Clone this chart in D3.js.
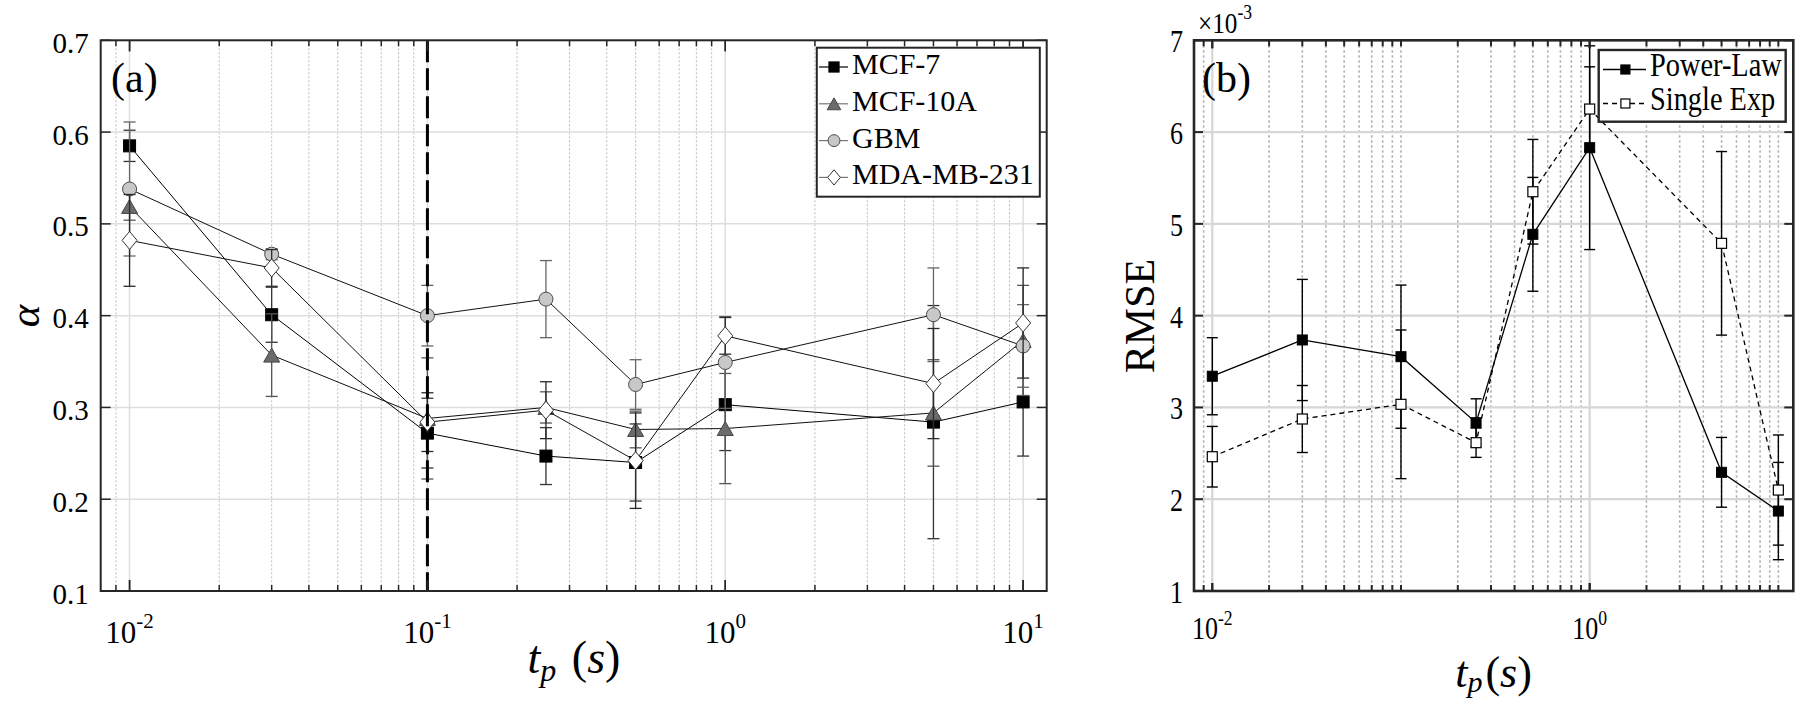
<!DOCTYPE html>
<html><head><meta charset="utf-8">
<script src="https://cdn.jsdelivr.net/npm/d3@7"></script>
<style>
body{margin:0;background:#fff}
svg{display:block}
text{font-family:"Liberation Serif","Times New Roman",serif;fill:#000}
</style>
</head><body>
<svg id="c" width="1798" height="703"></svg>
<script>
// ---------- data: panel (a) ----------
const tpA = [0.01, 0.03, 0.1, 0.25, 0.5, 1, 5, 10];
const seriesNamesA = ["MCF-7", "MCF-10A", "GBM", "MDA-MB-231"];
const mcf7      = [0.585, 0.401, 0.272, 0.247, 0.240, 0.303, 0.284, 0.306];
const mcf7Err   = [0.017, 0.030, 0.038, 0.031, 0.042, 0.050, 0.127, 0.059];
const mcf10a    = [0.519, 0.357, 0.288, 0.300, 0.276, 0.277, 0.294, 0.373];
const mcf10aErr = [0.015, 0.045, 0.066, 0.017, 0.020, 0.060, 0.058, 0.060];
const gbm       = [0.538, 0.467, 0.400, 0.418, 0.325, 0.349, 0.401, 0.367];
const gbmErr    = [0.073, 0.006, 0.033, 0.042, 0.027, 0.050, 0.051, 0.045];
const mda       = [0.482, 0.452, 0.284, 0.297, 0.242, 0.378, 0.326, 0.392];
const mdaErr    = [0.050, 0.020, 0.032, 0.031, 0.052, 0.020, 0.060, 0.060];
const yTicksA = [0.1, 0.2, 0.3, 0.4, 0.5, 0.6, 0.7];
const xMajorA = [0.01, 0.1, 1, 10];
const xLabelA = ["-2", "-1", "0", "1"];
const cutoffA = 0.1;

// ---------- data: panel (b) ----------
const tpB = [0.01, 0.03, 0.1, 0.25, 0.5, 1, 5, 10];
const seriesNamesB = ["Power-Law", "Single Exp"];
const powerLaw     = [3.340e-3, 3.735e-3, 3.553e-3, 2.834e-3, 4.886e-3, 5.830e-3, 2.293e-3, 1.871e-3];
const powerLawErr  = [0.42e-3, 0.66e-3, 0.78e-3, 0.26e-3, 0.62e-3, 1.11e-3, 0.38e-3, 0.53e-3];
const singleExp    = [2.463e-3, 2.874e-3, 3.034e-3, 2.616e-3, 5.350e-3, 6.251e-3, 4.788e-3, 2.100e-3];
const singleExpErr = [0.33e-3, 0.365e-3, 0.81e-3, 0.16e-3, 0.57e-3, 0.46e-3, 1.00e-3, 0.60e-3];
const yTicksB = [1e-3, 2e-3, 3e-3, 4e-3, 5e-3, 6e-3, 7e-3];
const xMajorB = [0.01, 1];
const xLabelB = ["-2", "0"];

const svg = d3.select("#c");

function isMajor(v, majors){ return majors.some(m => Math.abs(Math.log10(v) - Math.log10(m)) < 1e-9); }
function minorVals(dom){
  const out = [];
  for (let e = -4; e <= 2; e++) for (let k = 1; k <= 9; k++) {
    const v = +(k * Math.pow(10, e)).toPrecision(6);
    if (v > dom[0] * 1.002 && v < dom[1] * 0.998) out.push(v);
  }
  return out;
}

function makePanel(o){
  const x = d3.scaleLog().domain(o.xDomain).range([o.x0, o.x1]);
  const y = d3.scaleLinear().domain(o.yDomain).range([o.y1, o.y0]);
  const g = svg.append("g");
  const grid = g.append("g");
  const allX = minorVals(o.xDomain);
  grid.selectAll("line.minor").data(allX.filter(v => !isMajor(v, o.xMajor))).join("line")
    .attr("x1", d => x(d)).attr("x2", d => x(d)).attr("y1", o.y0).attr("y2", o.y1)
    .attr("stroke", o.minorColor).attr("stroke-width", o.minorWidth).attr("stroke-dasharray", o.minorDash);
  grid.selectAll("line.majx").data(o.xMajor).join("line")
    .attr("x1", d => x(d)).attr("x2", d => x(d)).attr("y1", o.y0).attr("y2", o.y1)
    .attr("stroke", o.majorColor).attr("stroke-width", o.majorWidth);
  grid.selectAll("line.majy").data(o.yTicks.slice(1, -1)).join("line")
    .attr("x1", o.x0).attr("x2", o.x1).attr("y1", d => y(d)).attr("y2", d => y(d))
    .attr("stroke", o.majorColor).attr("stroke-width", o.majorWidth);
  const data = g.append("g");
  const over = g.append("g");
  const frame = g.append("g");
  const tk = frame.append("g").attr("stroke", "#262626").attr("stroke-width", o.tickWidth);
  allX.concat(o.xMajor).forEach(v => {
    const L = isMajor(v, o.xMajor) ? o.majLen : o.minLen;
    tk.append("line").attr("x1", x(v)).attr("x2", x(v)).attr("y1", o.y1).attr("y2", o.y1 - L);
    tk.append("line").attr("x1", x(v)).attr("x2", x(v)).attr("y1", o.y0).attr("y2", o.y0 + L);
  });
  o.yTicks.forEach(v => {
    tk.append("line").attr("x1", o.x0).attr("x2", o.x0 + o.yLen).attr("y1", y(v)).attr("y2", y(v));
    tk.append("line").attr("x1", o.x1).attr("x2", o.x1 - o.yLen).attr("y1", y(v)).attr("y2", y(v));
  });
  frame.append("rect").attr("x", o.x0).attr("y", o.y0).attr("width", o.x1 - o.x0).attr("height", o.y1 - o.y0)
    .attr("fill", "none").attr("stroke", "#262626").attr("stroke-width", o.boxWidth);
  const lab = g.append("g");
  o.yTicks.forEach(v => {
    lab.append("text").attr("text-anchor", "end")
      .attr("transform", `translate(${o.x0 - o.yLabGap},${y(v) + o.yLabDy}) scale(${o.sx},1)`)
      .attr("font-size", o.tickFont).text(o.yFmt(v));
  });
  o.xMajor.forEach((v, i) => {
    const t = lab.append("text").attr("text-anchor", "middle")
      .attr("transform", `translate(${x(v)},${o.xLabBase}) scale(${o.sx},1)`)
      .attr("font-size", o.xTickFont);
    t.append("tspan").text("10");
    t.append("tspan").attr("font-size", o.supFont).attr("dy", -o.supRaise).text(o.xLabels[i]);
  });
  return {x, y, g, data, over, frame, lab};
}

function marker(g, type, cx, cy, w, h, fill, stroke, sw){
  let el;
  if (type === "square") el = g.append("rect").attr("x", cx - w/2).attr("y", cy - h/2).attr("width", w).attr("height", h);
  else if (type === "circle") el = g.append("ellipse").attr("cx", cx).attr("cy", cy).attr("rx", w/2).attr("ry", h/2);
  else if (type === "triangle") el = g.append("path").attr("d", `M${cx},${cy - h/2}L${cx + w/2},${cy + h/2}L${cx - w/2},${cy + h/2}Z`);
  else el = g.append("path").attr("d", `M${cx},${cy - h/2}L${cx + w/2},${cy}L${cx},${cy + h/2}L${cx - w/2},${cy}Z`);
  el.attr("fill", fill).attr("stroke", stroke).attr("stroke-width", sw);
}

function drawSeries(P, xs, vals, errs, st){
  const gs = P.data.append("g");
  xs.forEach((xv, i) => {
    const cx = P.x(xv), yt = P.y(vals[i] + errs[i]), yb = P.y(vals[i] - errs[i]);
    gs.append("line").attr("x1", cx).attr("x2", cx).attr("y1", yt).attr("y2", yb).attr("stroke", st.err).attr("stroke-width", st.errW);
    [yt, yb].forEach(yy => gs.append("line").attr("x1", cx - st.cap/2).attr("x2", cx + st.cap/2).attr("y1", yy).attr("y2", yy)
      .attr("stroke", st.err).attr("stroke-width", st.errW));
  });
  const line = d3.line().x((d, i) => P.x(xs[i])).y(d => P.y(d));
  gs.append("path").attr("d", line(vals)).attr("fill", "none").attr("stroke", st.line)
    .attr("stroke-width", st.lineW).attr("stroke-dasharray", st.dash || null);
  xs.forEach((xv, i) => marker(gs, st.shape, P.x(xv), P.y(vals[i]), st.w, st.h, st.fill, st.stroke, st.sw));
}

// ================= Panel (a) =================
const A = makePanel({
  x0: 100.7, x1: 1046.7, y0: 40.3, y1: 591, xDomain: [0.008, 12], yDomain: [0.1, 0.7],
  xMajor: xMajorA, yTicks: yTicksA, xLabels: xLabelA,
  minorColor: "#bdbdbd", minorWidth: 1, minorDash: "2,2", majorColor: "#dedede", majorWidth: 1.5,
  tickWidth: 1.5, majLen: 11, minLen: 6, yLen: 10, boxWidth: 2,
  yLabGap: 12, yLabDy: 12.5, tickFont: 29, xTickFont: 31, supFont: 21, supRaise: 15, xLabBase: 643, sx: 1,
  yFmt: v => d3.format(".1f")(v)
});
const stylesA = [
  {shape: "square", w: 12, h: 12, fill: "#000", stroke: "#000", sw: 1, err: "#333", errW: 1.3, cap: 12, line: "#000", lineW: 1},
  {shape: "triangle", w: 16, h: 14, fill: "#6b6b6b", stroke: "#474747", sw: 1, err: "#555", errW: 1.3, cap: 12, line: "#111", lineW: 1},
  {shape: "circle", w: 14, h: 14, fill: "#c8c8c8", stroke: "#4a4a4a", sw: 1, err: "#666", errW: 1.3, cap: 12, line: "#111", lineW: 1},
  {shape: "diamond", w: 15, h: 18, fill: "#fff", stroke: "#333", sw: 1, err: "#2a2a2a", errW: 1.3, cap: 12, line: "#111", lineW: 1}
];
const valsA = [mcf7, mcf10a, gbm, mda];
const errsA = [mcf7Err, mcf10aErr, gbmErr, mdaErr];
valsA.forEach((v, i) => drawSeries(A, tpA, v, errsA[i], stylesA[i]));
A.over.append("line").attr("x1", A.x(cutoffA)).attr("x2", A.x(cutoffA)).attr("y1", 40.3).attr("y2", 591)
  .attr("stroke", "#000").attr("stroke-width", 3).attr("stroke-dasharray", "22,6");
A.lab.append("text").attr("x", 111).attr("y", 92).attr("font-size", 42).text("(a)");
const legA = A.lab.append("g");
legA.append("rect").attr("x", 816.8).attr("y", 47.7).attr("width", 223).attr("height", 149)
  .attr("fill", "#fff").attr("stroke", "#262626").attr("stroke-width", 2);
const legLineColA = ["#000", "#777", "#777", "#777"];
seriesNamesA.forEach((n, i) => {
  const base = 74 + i * 36.8, my = base - 7;
  legA.append("line").attr("x1", 819).attr("x2", 848).attr("y1", my).attr("y2", my).attr("stroke", legLineColA[i]).attr("stroke-width", 1.2);
  const s = stylesA[i];
  marker(legA, s.shape, 834, my, s.w * 0.85, s.h * 0.85, s.fill, s.stroke, 1);
  legA.append("text").attr("x", 852).attr("y", base).attr("font-size", 30).text(n);
});
const xlA = A.lab.append("text").attr("x", 574).attr("y", 673).attr("text-anchor", "middle").attr("font-size", 46);
xlA.append("tspan").attr("font-style", "italic").text("t");
xlA.append("tspan").attr("font-style", "italic").attr("font-size", 32).attr("dy", 8).text("p");
xlA.append("tspan").attr("dy", -8).attr("dx", 4).text(" (");
xlA.append("tspan").attr("font-style", "italic").text("s");
xlA.append("tspan").text(")");
A.lab.append("text").attr("transform", "translate(39,316) rotate(-90)").attr("text-anchor", "middle")
  .attr("font-size", 43).attr("font-style", "italic").text("α");

// ================= Panel (b) =================
const B = makePanel({
  x0: 1194, x1: 1793.3, y0: 40.3, y1: 591, xDomain: [0.008, 12], yDomain: [1e-3, 7e-3],
  xMajor: xMajorB, yTicks: yTicksB, xLabels: xLabelB,
  minorColor: "#b3b3b3", minorWidth: 1.6, minorDash: "2.5,2.5", majorColor: "#d6d6d6", majorWidth: 2.2,
  tickWidth: 2, majLen: 8, minLen: 6, yLen: 9, boxWidth: 2.6,
  yLabGap: 11, yLabDy: 12, tickFont: 31, xTickFont: 31, supFont: 21, supRaise: 14, xLabBase: 639, sx: 0.84,
  yFmt: v => d3.format("d")(Math.round(v * 1000))
});
const stylesB = [
  {shape: "square", w: 10, h: 10, fill: "#000", stroke: "#000", sw: 1, err: "#000", errW: 1.4, cap: 11, line: "#000", lineW: 1.3},
  {shape: "square", w: 10, h: 10, fill: "#fff", stroke: "#000", sw: 1.2, err: "#000", errW: 1.4, cap: 11, line: "#000", lineW: 1.3, dash: "5,4"}
];
drawSeries(B, tpB, powerLaw, powerLawErr, stylesB[0]);
drawSeries(B, tpB, singleExp, singleExpErr, stylesB[1]);
B.lab.append("text").attr("x", 1202).attr("y", 92).attr("font-size", 42).text("(b)");
const ex = B.lab.append("text").attr("transform", "translate(1198,33) scale(0.84,1)").attr("font-size", 30);
ex.append("tspan").text("×10");
ex.append("tspan").attr("font-size", 21).attr("dy", -14).text("-3");
const legB = B.lab.append("g");
legB.append("rect").attr("x", 1598.7).attr("y", 50).attr("width", 187).attr("height", 71.7)
  .attr("fill", "#fff").attr("stroke", "#262626").attr("stroke-width", 2.4);
seriesNamesB.forEach((n, i) => {
  const base = 76 + i * 34, my = base - 6.5;
  const s = stylesB[i];
  legB.append("line").attr("x1", 1603).attr("x2", 1646).attr("y1", my).attr("y2", my).attr("stroke", "#000")
    .attr("stroke-width", 1.3).attr("stroke-dasharray", s.dash || null);
  marker(legB, s.shape, 1625.4, my, 9, 9, s.fill, s.stroke, 1.2);
  legB.append("text").attr("transform", `translate(1650,${base}) scale(0.86,1)`).attr("font-size", 33).text(n);
});
const xlB = B.lab.append("text").attr("x", 1493.5).attr("y", 687).attr("text-anchor", "middle").attr("font-size", 44);
xlB.append("tspan").attr("font-style", "italic").text("t");
xlB.append("tspan").attr("font-style", "italic").attr("font-size", 30).attr("dy", 5).text("p");
xlB.append("tspan").attr("dy", -5).attr("dx", 3).text("(");
xlB.append("tspan").attr("font-style", "italic").text("s");
xlB.append("tspan").text(")");
B.lab.append("text").attr("transform", "translate(1140,316) rotate(-90)").attr("text-anchor", "middle")
  .attr("dominant-baseline", "central").attr("font-size", 42).text("RMSE");
</script>
</body></html>
